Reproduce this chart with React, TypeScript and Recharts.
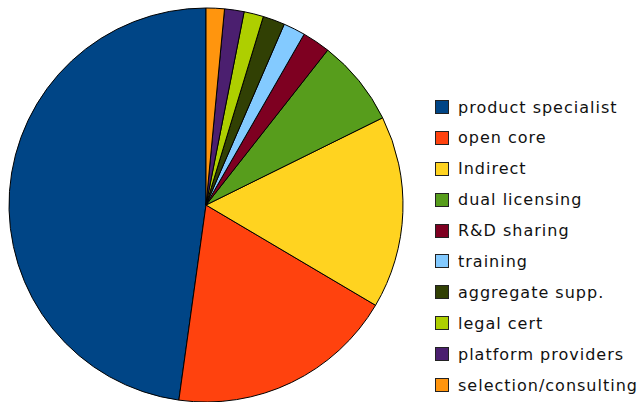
import React from 'react';
import { PieChart, Pie, Cell, Legend } from 'recharts';

const categories = [
  'product specialist',
  'open core',
  'Indirect',
  'dual licensing',
  'R&D sharing',
  'training',
  'aggregate supp.',
  'legal cert',
  'platform providers',
  'selection/consulting',
];
const values = [47.8, 18.7, 15.8, 7.1, 2.3, 1.8, 1.8, 1.6, 1.6, 1.5];
const colors = [
  '#004586',
  '#ff420e',
  '#ffd320',
  '#579d1c',
  '#7e0021',
  '#83caff',
  '#314004',
  '#aecf00',
  '#4b1f6f',
  '#ff950e',
];

const data = categories.map((name, i) => ({ name, value: values[i] }));

const renderLegend = (props: any) => {
  const payload: any[] = props && props.payload && props.payload.length ? props.payload : [];
  const items = categories.map((name, i) => {
    const p = payload.find((e) => e && e.value === name);
    return { name, color: (p && p.color) || colors[i] };
  });
  return (
    <div style={{ fontFamily: '"DejaVu Sans", sans-serif', fontSize: 16, letterSpacing: 1, color: '#111' }}>
      {items.map((it) => (
        <div key={it.name} style={{ height: 30.9, display: 'flex', alignItems: 'center', whiteSpace: 'nowrap' }}>
          <span
            style={{
              display: 'inline-block',
              width: 12,
              height: 12,
              background: it.color,
              border: '1px solid #222',
              marginLeft: 1,
              marginRight: 9,
            }}
          />
          <span>{it.name}</span>
        </div>
      ))}
    </div>
  );
};

export default function App() {
  return (
    <div style={{ position: 'absolute', left: 0, top: 0, width: 639, height: 402, background: '#fff' }}>
      <PieChart width={639} height={402} margin={{ top: 0, right: 0, bottom: 0, left: 0 }}>
        <Pie
          data={data}
          dataKey="value"
          nameKey="name"
          cx={206}
          cy={205}
          outerRadius={197}
          startAngle={90}
          endAngle={450}
          stroke="#000"
          strokeWidth={1}
          isAnimationActive={false}
        >
          {data.map((d, i) => (
            <Cell key={d.name} fill={colors[i]} />
          ))}
        </Pie>
        <Legend
          layout="vertical"
          verticalAlign="top"
          align="right"
          content={renderLegend}
          wrapperStyle={{ position: 'absolute', left: 434, top: 91.6, width: 205 }}
        />
      </PieChart>
    </div>
  );
}
